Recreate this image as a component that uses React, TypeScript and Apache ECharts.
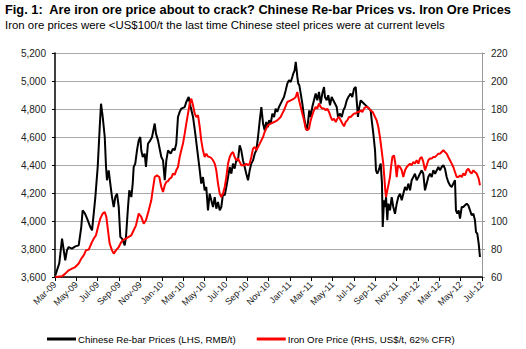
import React, { useEffect, useRef } from "react";
import * as echarts from "echarts";

// x positions are months since 1 Mar 2009
const xTickLabels = [
  "Mar-09", "May-09", "Jul-09", "Sep-09", "Nov-09", "Jan-10", "Mar-10", "May-10", "Jul-10", "Sep-10",
  "Nov-10", "Jan-11", "Mar-11", "May-11", "Jul-11", "Sep-11", "Nov-11", "Jan-12", "Mar-12", "May-12", "Jul-12",
];

const rebarMonths = [
  0.03, 0.4, 0.66, 0.96, 1.12, 1.28, 1.59, 1.9, 2.22, 2.46, 2.59, 2.81, 3.0, 3.31, 3.47, 3.63, 3.78, 4.0, 4.19, 4.31,
  4.47, 4.66, 4.78, 4.87, 5.03, 5.18, 5.34, 5.5, 5.65, 5.81, 5.97, 6.12, 6.28, 6.53, 6.65, 6.84, 6.96, 7.15, 7.28, 7.37,
  7.52, 7.68, 7.84, 7.99, 8.08, 8.22, 8.4, 8.52, 8.71, 8.93, 9.09, 9.34, 9.46, 9.65, 9.77, 9.96, 10.12, 10.28, 10.43, 10.59,
  10.84, 11.05, 11.21, 11.36, 11.52, 11.68, 11.83, 12.15, 12.3, 12.52, 12.71, 12.93, 13.14, 13.33, 13.56, 13.7, 13.86, 14.02, 14.17, 14.33,
  14.49, 14.64, 14.8, 14.96, 15.11, 15.27, 15.43, 15.58, 15.74, 15.9, 16.05, 16.21, 16.37, 16.52, 16.67, 16.83, 16.98, 17.14, 17.3, 17.45,
  17.61, 17.77, 17.92, 18.08, 18.24, 18.39, 18.55, 18.71, 18.86, 19.02, 19.18, 19.33, 19.49, 19.64, 19.79, 19.95, 20.05, 20.21, 20.36, 20.52,
  20.67, 20.82, 20.98, 21.29, 21.45, 21.61, 21.76, 21.92, 22.08, 22.23, 22.32, 22.45, 22.55, 22.64, 22.7, 22.79, 22.89, 23.02, 23.17, 23.33,
  23.49, 23.58, 23.7, 23.82, 23.95, 24.1, 24.26, 24.42, 24.57, 24.73, 24.89, 25.04, 25.2, 25.29, 25.45, 25.6, 25.76, 25.92, 26.07, 26.39,
  26.51, 26.7, 26.86, 27.01, 27.17, 27.33, 27.48, 27.7, 27.85, 28.01, 28.17, 28.26, 28.38, 28.48, 28.64, 28.79, 28.95, 29.11, 29.26, 29.41,
  29.57, 29.67, 29.82, 29.98, 30.07, 30.19, 30.32, 30.51, 30.63, 30.7, 30.82, 30.91, 31.01, 31.13, 31.22, 31.38, 31.54, 31.69, 31.85, 32.01,
  32.16, 32.32, 32.48, 32.63, 32.79, 32.95, 33.1, 33.26, 33.41, 33.57, 33.72, 33.88, 34.04, 34.19, 34.35, 34.5, 34.66, 34.82, 34.97, 35.13,
  35.29, 35.44, 35.6, 35.76, 35.91, 36.07, 36.22, 36.38, 36.53, 36.69, 36.84, 37.0, 37.16, 37.31, 37.47, 37.56, 37.69, 37.82, 37.94, 38.1,
  38.25, 38.41, 38.57, 38.72, 38.88, 39.03, 39.19, 39.34, 39.44, 39.56, 39.69, 39.81,
];
const rebarPrices = [
  3612, 3698, 3874, 3719, 3790, 3814, 3803, 3819, 3826, 3957, 4076, 4053, 4019, 3957, 3933, 4055, 4171, 4386, 4671, 4838,
  4743, 4600, 4386, 4291, 4362, 4267, 4171, 4100, 4171, 4195, 4100, 3886, 3874, 3826, 3886, 4100, 4219, 4171, 4267, 4386,
  4410, 4505, 4576, 4600, 4505, 4457, 4481, 4386, 4552, 4576, 4600, 4696, 4624, 4576, 4529, 4457, 4433, 4291, 4433, 4505,
  4481, 4517, 4505, 4552, 4743, 4779, 4803, 4814, 4850, 4886, 4814, 4743, 4624, 4505, 4362, 4267, 4314, 4219, 4243, 4076,
  4195, 4148, 4100, 4171, 4088, 4136, 4076, 4100, 4195, 4183, 4243, 4314, 4386, 4338, 4410, 4374, 4433, 4433, 4541, 4505,
  4433, 4386, 4338, 4291, 4362, 4410, 4433, 4481, 4505, 4600, 4719, 4814, 4696, 4648, 4707, 4671, 4719, 4696, 4767, 4743,
  4803, 4779, 4814, 4862, 4886, 4933, 4981, 5005, 4993, 5029, 5052, 5076, 5136, 5076, 5029, 4981, 4969, 4910, 4838, 4743,
  4671, 4648, 4707, 4790, 4743, 4814, 4862, 4910, 4862, 4922, 4838, 4910, 4957, 4886, 4862, 4898, 4826, 4886, 4862, 4814,
  4743, 4767, 4743, 4790, 4814, 4862, 4886, 4910, 4886, 4945, 4957, 4862, 4743, 4803, 4862, 4850, 4838, 4826, 4814, 4803,
  4790, 4719, 4624, 4505, 4362, 4338, 4362, 4410, 4267, 3957, 4148, 4100, 4171, 4005, 4124, 4076, 4171, 4100, 4052, 4124,
  4171, 4195, 4148, 4195, 4243, 4219, 4267, 4219, 4291, 4314, 4338, 4291, 4314, 4338, 4362, 4338, 4219, 4267, 4314, 4338,
  4314, 4362, 4338, 4362, 4386, 4362, 4386, 4398, 4374, 4314, 4279, 4255, 4243, 4267, 4291, 4076, 4052, 4076, 4017, 4100,
  4100, 4112, 4124, 4112, 4076, 4041, 4052, 4005, 3921, 3910, 3838, 3743,
];

const oreMonths = [
  0.03, 0.66, 0.96, 1.28, 1.59, 1.9, 2.22, 2.46, 2.69, 2.9, 3.16, 3.4, 3.63, 3.84, 4.03, 4.24, 4.47, 4.66, 4.81, 4.96,
  5.12, 5.34, 5.5, 5.71, 5.97, 6.21, 6.44, 6.65, 6.9, 7.15, 7.37, 7.59, 7.84, 8.08, 8.31, 8.52, 8.78, 9.02, 9.15, 9.34,
  9.55, 9.77, 9.96, 10.12, 10.28, 10.43, 10.59, 10.74, 10.9, 11.05, 11.21, 11.36, 11.52, 11.68, 11.83, 11.99, 12.15, 12.3, 12.46, 12.62,
  12.77, 12.93, 13.09, 13.24, 13.4, 13.56, 13.7, 13.86, 14.02, 14.17, 14.33, 14.49, 14.64, 14.8, 14.96, 15.11, 15.27, 15.43, 15.58, 15.74,
  15.9, 16.05, 16.21, 16.37, 16.52, 16.67, 16.83, 16.98, 17.14, 17.3, 17.45, 17.61, 17.77, 17.92, 18.08, 18.24, 18.39, 18.55, 18.71, 18.86,
  19.02, 19.18, 19.33, 19.49, 19.64, 19.79, 19.95, 20.21, 20.52, 20.82, 21.14, 21.29, 21.45, 21.76, 22.08, 22.39, 22.55, 22.7, 22.86, 23.02,
  23.17, 23.33, 23.49, 23.63, 23.79, 23.95, 24.1, 24.26, 24.42, 24.57, 24.73, 24.89, 25.04, 25.2, 25.36, 25.51, 25.67, 25.83, 25.98, 26.14,
  26.3, 26.45, 26.6, 26.76, 26.92, 27.07, 27.23, 27.38, 27.54, 27.7, 27.85, 28.01, 28.17, 28.32, 28.48, 28.64, 28.79, 28.95, 29.11, 29.26,
  29.41, 29.57, 29.76, 29.98, 30.13, 30.29, 30.44, 30.6, 30.75, 30.85, 30.94, 31.01, 31.13, 31.26, 31.38, 31.48, 31.6, 31.76, 31.88, 32.01,
  32.13, 32.32, 32.48, 32.63, 32.79, 32.95, 33.1, 33.26, 33.41, 33.57, 33.72, 33.88, 34.04, 34.19, 34.35, 34.5, 34.66, 34.82, 34.97, 35.13,
  35.29, 35.44, 35.6, 35.76, 35.91, 36.07, 36.22, 36.38, 36.53, 36.69, 36.84, 37.0, 37.16, 37.31, 37.47, 37.63, 37.78, 37.94, 38.1, 38.25,
  38.41, 38.57, 38.72, 38.88, 39.03, 39.19, 39.34, 39.5, 39.69, 39.81,
];
const orePrices = [
  60, 60.5, 62.4, 64.8, 66, 67.1, 69.6, 73.1, 75.5, 79, 79.6, 83.9, 87.4, 89.8, 95.7, 101.7, 105.3, 106.4, 102.9, 93.4,
  83.9, 79, 76.7, 79, 81.4, 85, 86.7, 87.4, 88.6, 89.8, 93.4, 96.9, 105.3, 102.9, 98.1, 100.5, 107.6, 114.8, 121.9, 131.4,
  132.6, 131.4, 124.3, 120.7, 125.5, 127.9, 128.5, 130.3, 131, 133.9, 133, 136.2, 138.6, 145.7, 150.5, 155.3, 162.4, 169.6, 176.7, 183.9,
  187.4, 182.6, 176.7, 174.3, 175.5, 167.1, 157.6, 150.5, 145.7, 148.1, 146, 145.7, 145, 143.4, 141, 136.2, 126.7, 119.6, 117.1, 119.6,
  124.3, 131.4, 141, 145.7, 148.1, 149.3, 145.7, 143.4, 144.6, 142.2, 139.8, 139.8, 139.8, 141, 139.8, 141, 145.7, 151.7, 152.9, 150.5,
  152.9, 155.3, 157.6, 160, 163.6, 166, 168.4, 169.6, 170.7, 171.9, 174.3, 176.7, 179.1, 185, 186.2, 187.4, 188.6, 192.1, 186.2, 181.4,
  176.7, 171.9, 166, 164.8, 165.9, 171.9, 175.5, 179.1, 181.4, 180.3, 183.9, 181.4, 180.3, 180.3, 179.1, 180.3, 177.9, 174.3, 171.9, 173.1,
  170.7, 173.1, 174.3, 171.9, 169.6, 167.6, 170.7, 171.9, 174.3, 174.3, 175.5, 176.7, 176.7, 177.9, 177.9, 179.1, 177.9, 180.3, 181.4, 181.4,
  180.3, 179.1, 177.9, 174.3, 172, 167.1, 160, 150.5, 141, 131.4, 121.9, 117.1, 121.9, 126.7, 131.4, 138.6, 145.7, 146.9, 141, 131.4,
  139.8, 138.6, 136.2, 131.4, 136.2, 138.6, 139.8, 141, 139.8, 142.2, 141, 143.4, 141, 144.6, 145.7, 142.2, 136.2, 139.8, 143.4, 144.6,
  144.6, 145.7, 145.7, 146.9, 148.1, 148.1, 149.3, 150.5, 149.3, 148.1, 145.7, 143.4, 141, 138.6, 135, 131.4, 131.4, 132.6, 131.4, 133.9,
  132.6, 136.2, 137.4, 135, 133.9, 136.2, 135, 133.9, 130.3, 125.5,
];

const FONT = "'Liberation Sans', Arial, sans-serif";

export default function App() {
  const ref = useRef<HTMLDivElement>(null);
  useEffect(() => {
    if (!ref.current) return;
    const chart = echarts.init(ref.current, undefined, { renderer: "svg" });
    const rebarData = rebarMonths.map((m, i) => [m, rebarPrices[i]]);
    const oreData = oreMonths.map((m, i) => [m, orePrices[i]]);
    chart.setOption({
      animation: false,
      backgroundColor: "#ffffff",
      textStyle: { fontFamily: FONT },
      title: {
        text: "Fig. 1:  Are iron ore price about to crack? Chinese Re-bar Prices vs. Iron Ore Prices",
        subtext: "Iron ore prices were <US$100/t the last time Chinese steel prices were at current levels",
        left: 5,
        top: 3,
        itemGap: 3,
        padding: 0,
        textStyle: { fontFamily: FONT, fontSize: 12.8, fontWeight: "bold", color: "#000" },
        subtextStyle: { fontFamily: FONT, fontSize: 11.4, color: "#000" },
      },
      legend: {
        left: 42,
        top: 329,
        itemWidth: 29,
        itemHeight: 3,
        itemGap: 21,
        icon: "rect",
        textStyle: { fontFamily: FONT, fontSize: 9.7, color: "#000", padding: [0, 0, 0, -3] },
        data: ["Chinese Re-bar Prices (LHS, RMB/t)", "Iron Ore Price (RHS, US$/t, 62% CFR)"],
      },
      grid: { left: 55, right: 44, top: 53, bottom: 72, containLabel: false },
      xAxis: {
        type: "value",
        min: 0,
        max: 40,
        interval: 2,
        axisLine: { show: true, onZero: false, lineStyle: { color: "#000", width: 1.5 } },
        axisTick: { show: true, length: 4, lineStyle: { color: "#000" } },
        axisLabel: {
          rotate: 45,
          fontSize: 9,
          color: "#222",
          margin: 6,
          fontFamily: FONT,
          formatter: (v: number) => xTickLabels[Math.round(v / 2)] ?? "",
        },
        splitLine: { show: false },
      },
      yAxis: [
        {
          type: "value",
          min: 3600,
          max: 5200,
          interval: 200,
          axisLine: { show: true, lineStyle: { color: "#000", width: 1.5 } },
          axisTick: { show: true, length: 3, lineStyle: { color: "#000" } },
          axisLabel: {
            fontSize: 10,
            color: "#222",
            margin: 9,
            fontFamily: FONT,
            formatter: (v: number) => v.toLocaleString("en-US"),
          },
          splitLine: { show: true, lineStyle: { color: "#aaaaaa", width: 1.2 } },
        },
        {
          type: "value",
          min: 60,
          max: 220,
          interval: 20,
          position: "right",
          axisLine: { show: true, lineStyle: { color: "#999", width: 1 } },
          axisTick: { show: true, length: 3, lineStyle: { color: "#999" } },
          axisLabel: { fontSize: 10, color: "#222", margin: 9, fontFamily: FONT },
          splitLine: { show: false },
        },
      ],
      series: [
        {
          name: "Chinese Re-bar Prices (LHS, RMB/t)",
          type: "line",
          yAxisIndex: 0,
          data: rebarData,
          showSymbol: false,
          symbol: "none",
          color: "#000000",
          lineStyle: { color: "#000000", width: 2 },
          z: 3,
        },
        {
          name: "Iron Ore Price (RHS, US$/t, 62% CFR)",
          type: "line",
          yAxisIndex: 1,
          data: oreData,
          showSymbol: false,
          symbol: "none",
          color: "#ff0000",
          lineStyle: { color: "#ff0000", width: 2 },
          z: 4,
        },
      ],
    });
    return () => chart.dispose();
  }, []);
  return (
    <div
      ref={ref}
      style={{ position: "fixed", left: 0, top: 0, width: 526, height: 349 }}
    />
  );
}
